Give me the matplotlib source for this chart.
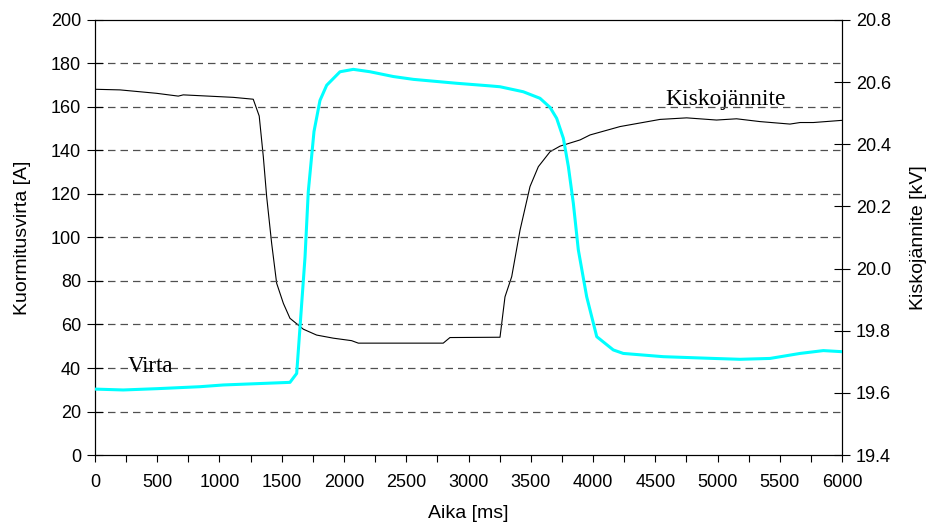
import matplotlib
matplotlib.use("Agg")
from matplotlib import pyplot as plt
from matplotlib.ticker import MultipleLocator

plt.rcParams['font.family'] = ['Liberation Sans', 'DejaVu Sans']

# current (Virta), left axis [A]
t_virta = [0, 227, 500, 843, 1031, 1300, 1566, 1620, 1647, 1687, 1713, 1759, 1807, 1861,
           1968, 2075, 2209, 2396, 2557, 2905, 3173, 3253, 3440, 3574, 3655, 3708,
           3762, 3802, 3842, 3882, 3949, 4030, 4163, 4243, 4565, 4966, 5181, 5422,
           5663, 5850, 6000]
virta = [30.3, 29.9, 30.5, 31.4, 32.2, 32.8, 33.4, 37.5, 59, 91, 121, 148.7, 163, 170,
         176.2, 177.3, 176.2, 174, 172.7, 170.9, 169.7, 169.3, 167, 164, 159.8, 154.8,
         145.6, 132.6, 115.7, 94.3, 72.8, 54.4, 48.3, 46.7, 45.2, 44.4, 44.0, 44.4,
         46.7, 48.0, 47.5]

# busbar voltage (Kiskojännite), right axis [kV]
t_kisko = [0, 201, 495, 669, 709, 1111, 1271, 1319, 1352, 1379, 1419, 1459, 1513, 1566,
           1673, 1780, 1914, 2061, 2115, 2797, 2851, 3253, 3293, 3347, 3414, 3494, 3561,
           3655, 3735, 3896, 3976, 4217, 4538, 4752, 4992, 5153, 5341, 5582, 5663, 5770,
           6000]
kisko = [20.577, 20.575, 20.564, 20.555, 20.559, 20.551, 20.545, 20.491, 20.36, 20.231,
         20.081, 19.953, 19.888, 19.84, 19.805, 19.786, 19.776, 19.768, 19.76, 19.76,
         19.778, 19.779, 19.909, 19.974, 20.124, 20.264, 20.328, 20.376, 20.394, 20.414,
         20.43, 20.457, 20.48, 20.485, 20.478, 20.482, 20.473, 20.465, 20.47, 20.47,
         20.477]

fig = plt.figure(figsize=(9.33, 5.3), dpi=100)
ax = fig.add_axes([0.1018, 0.1415, 0.8007, 0.8208])
ax2 = ax.twinx()

for y in range(20, 200, 20):
    ax.axhline(y, color='#505050', linestyle=(0, (6, 4)), linewidth=0.9, zorder=0)

ax.plot(t_virta, virta, color='#00ffff', linewidth=2.2, zorder=3)
ax2.plot(t_kisko, kisko, color='black', linewidth=0.8)

ax.set_xlim(0, 6000)
ax.set_ylim(0, 200)
ax2.set_ylim(19.4, 20.8)
ax.xaxis.set_major_locator(MultipleLocator(500))
ax.xaxis.set_minor_locator(MultipleLocator(250))
ax.yaxis.set_major_locator(MultipleLocator(20))
ax2.yaxis.set_major_locator(MultipleLocator(0.2))
ax2.set_yticklabels(['%.1f' % v for v in ax2.get_yticks()])

ax.tick_params(axis='x', which='both', direction='out', length=5, width=0.8,
               labelsize=13, pad=9)
ax.tick_params(axis='y', direction='inout', length=12, width=0.8, labelsize=13, pad=4)
ax2.tick_params(axis='y', direction='inout', length=12, width=0.8, labelsize=13, pad=4)

ax.set_xlabel('Aika [ms]', fontsize=14, labelpad=10)
ax.set_ylabel('Kuormitusvirta [A]', fontsize=14, labelpad=14)
ax2.set_ylabel('Kiskojännite [kV]', fontsize=14, labelpad=14)

ax.text(265, 38.3, 'Virta', family=['Liberation Serif'], fontsize=16.5, va='baseline')
ax2.text(4578, 20.526, 'Kiskojännite', family=['Liberation Serif'], fontsize=17,
         va='baseline')

ax2.set_zorder(1)
ax.set_zorder(2)
ax.patch.set_visible(False)

plt.savefig('out.png', dpi=100)
